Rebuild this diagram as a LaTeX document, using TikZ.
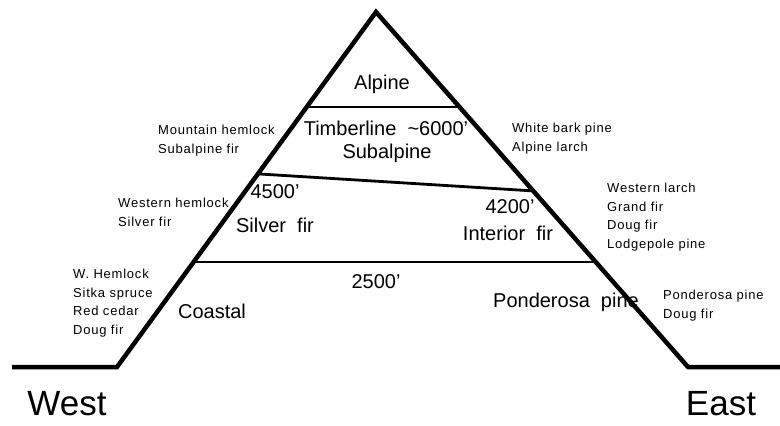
\documentclass[tikz,border=0pt]{standalone}
\usepackage{fontspec}
\setmainfont{Liberation Sans}
\newfontfamily\smallfont[LetterSpace=6]{Liberation Sans}
\usetikzlibrary{calc}
\begin{document}
\begin{tikzpicture}[x=1pt,y=-1pt,
  slope/.style={line width=4.5pt, line join=miter},
  zone/.style={line width=2.8pt},
  big/.style={font=\fontsize{20}{23}\selectfont, inner sep=0pt},
  small/.style={font=\smallfont\fontsize{13}{18.5}\selectfont, align=left, anchor=north west, inner sep=0pt},
  huge/.style={font=\fontsize{35}{38}\selectfont, inner sep=0pt, anchor=base},
]
\useasboundingbox (0,0) rectangle (780,426);
% mountain outline
\coordinate (wl) at (12,367);
\coordinate (lf) at (117,367);
\coordinate (apex) at (376,12);
\coordinate (rf) at (688,367);
\coordinate (er) at (780,367);
\draw[slope] (wl) -- (lf) -- (apex) -- (rf) -- (er);
% zone boundaries
\coordinate (a1) at ($(apex)!0.2676!(lf)$);
\coordinate (a2) at ($(apex)!0.2676!(rf)$);
\coordinate (s1) at ($(apex)!0.456!(lf)$);
\coordinate (s2) at ($(apex)!0.504!(rf)$);
\coordinate (c1) at ($(apex)!0.704!(lf)$);
\coordinate (c2) at ($(apex)!0.704!(rf)$);
\draw[zone] (a1) -- (a2);
\draw[zone] (s1) -- (s2);
\draw[zone] (c1) -- (c2);
% zone labels
\node[big] (alpine) at (382,84) {Alpine};
\node[big] (timber) at (386,128) {Timberline\ \ \textasciitilde6000'};
\node[big] (subalp) at (387,153) {Subalpine};
\node[big] (e4500) at (275,192) {4500'};
\node[big] (silver) at (275,225) {Silver\ \ fir};
\node[big] (e4200) at (510,207) {4200'};
\node[big] (interior) at (508,233) {Interior\ \ fir};
\node[big] (e2500) at (376,282) {2500'};
\node[big] (ponder) at (566,302) {Ponderosa\ \ pine};
\node[big] (coastal) at (212,311) {Coastal};
% species lists
\node[small] (mh) at (158,125) {Mountain hemlock\\Subalpine fir};
\node[small] (wh) at (118,198) {Western hemlock\\Silver fir};
\node[small] (wc) at (73,269) {W. Hemlock\\Sitka spruce\\Red cedar\\Doug fir};
\node[small] (wb) at (512,123) {White bark pine\\Alpine larch};
\node[small] (wlx) at (607,183) {Western larch\\Grand fir\\Doug fir\\Lodgepole pine};
\node[small] (pp) at (663,290) {Ponderosa pine\\Doug fir};
% directions
\node[huge] (west) at (67,415) {West};
\node[huge] (east) at (721,415) {East};
\end{tikzpicture}
\end{document}
